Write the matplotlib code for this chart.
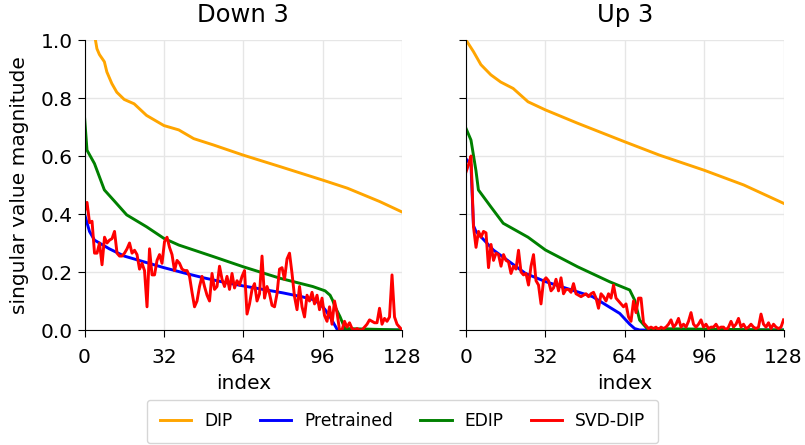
import matplotlib
matplotlib.use("Agg")
import matplotlib.pyplot as plt
import numpy as np

titles = ["Down 3", "Up 3"]
series_names = ["DIP", "Pretrained", "EDIP", "SVD-DIP"]
colors = ["orange", "blue", "green", "red"]
xticks = [0, 32, 64, 96, 128]
yticks = [0.0, 0.2, 0.4, 0.6, 0.8, 1.0]

# ---- Down 3 ----
down_dip_idx = [0, 2, 4, 5, 6, 8, 9, 11, 13, 16, 20, 25, 32, 38, 44, 52, 64, 79, 96, 106, 119, 128]
down_dip_val = [1.15, 1.08, 1.02, 0.97, 0.95, 0.925, 0.89, 0.85, 0.82, 0.795, 0.78, 0.74, 0.705, 0.69,
                0.66, 0.638, 0.603, 0.563, 0.517, 0.489, 0.443, 0.407]
down_pre_idx = [0, 2, 4, 6, 10, 16, 24, 32, 40, 48, 56, 64, 72, 80, 88, 92, 95, 97, 99, 101, 102, 128]
down_pre_val = [0.40, 0.34, 0.31, 0.30, 0.28, 0.255, 0.235, 0.215, 0.197, 0.18, 0.165, 0.152, 0.14,
                0.128, 0.114, 0.105, 0.09, 0.07, 0.045, 0.015, 0.0, 0.0]
down_edip_idx = [0, 1, 4, 8, 12, 17, 25, 32, 38, 52, 64, 79, 92, 97, 99, 100, 101, 103, 105, 128]
down_edip_val = [0.735, 0.62, 0.574, 0.483, 0.445, 0.397, 0.356, 0.316, 0.293, 0.253, 0.218, 0.178,
                 0.15, 0.135, 0.12, 0.103, 0.08, 0.046, 0.005, 0.0]
down_svd_val = [0.41, 0.44, 0.37, 0.375, 0.265, 0.265, 0.30, 0.225, 0.32, 0.30,
                0.31, 0.315, 0.34, 0.265, 0.255, 0.255, 0.265, 0.28, 0.30, 0.265,
                0.275, 0.26, 0.21, 0.23, 0.205, 0.08, 0.28, 0.19, 0.19, 0.24,
                0.26, 0.23, 0.305, 0.32, 0.285, 0.26, 0.205, 0.24, 0.23, 0.21,
                0.205, 0.205, 0.185, 0.13, 0.08, 0.10, 0.15, 0.185, 0.15, 0.12,
                0.10, 0.195, 0.14, 0.15, 0.22, 0.175, 0.15, 0.185, 0.14, 0.195,
                0.145, 0.17, 0.155, 0.185, 0.205, 0.055, 0.09, 0.14, 0.16, 0.10,
                0.125, 0.255, 0.11, 0.15, 0.125, 0.085, 0.08, 0.125, 0.21, 0.215,
                0.175, 0.245, 0.265, 0.195, 0.115, 0.07, 0.15, 0.08, 0.045, 0.12,
                0.10, 0.13, 0.09, 0.12, 0.07, 0.11, 0.05, 0.03, 0.08, 0.02,
                0.10, 0.06, 0.0, 0.0, 0.03, 0.01, 0.025, 0.005, 0.0, 0.005,
                0.0, 0.0, 0.01, 0.02, 0.035, 0.03, 0.025, 0.025, 0.075, 0.02,
                0.04, 0.03, 0.045, 0.19, 0.045, 0.02, 0.01, 0.0]

# ---- Up 3 ----
up_dip_idx = [0, 3, 6, 10, 14, 19, 25, 32, 45, 64, 78, 96, 112, 128]
up_dip_val = [1.0, 0.96, 0.915, 0.88, 0.855, 0.833, 0.787, 0.759, 0.713, 0.649, 0.603, 0.551, 0.50, 0.437]
up_pre_idx = [0, 2, 3, 4, 11, 24, 32, 51, 62, 66, 68, 70, 128]
up_pre_val = [0.59, 0.57, 0.36, 0.34, 0.276, 0.195, 0.167, 0.115, 0.057, 0.02, 0.005, 0.0, 0.0]
up_edip_idx = [0, 2, 4, 5, 10, 15, 25, 32, 45, 58, 66, 68, 70, 73, 128]
up_edip_val = [0.695, 0.655, 0.55, 0.483, 0.425, 0.368, 0.32, 0.276, 0.218, 0.166, 0.138, 0.103,
               0.034, 0.005, 0.0]
up_svd_val = [0.545, 0.57, 0.60, 0.355, 0.285, 0.34, 0.32, 0.34, 0.335, 0.215,
              0.295, 0.24, 0.265, 0.26, 0.22, 0.26, 0.24, 0.235, 0.195, 0.22,
              0.21, 0.275, 0.20, 0.19, 0.195, 0.155, 0.22, 0.26, 0.17, 0.155,
              0.09, 0.17, 0.18, 0.17, 0.135, 0.145, 0.175, 0.135, 0.18, 0.125,
              0.14, 0.14, 0.13, 0.16, 0.125, 0.12, 0.115, 0.12, 0.125, 0.115,
              0.125, 0.13, 0.11, 0.075, 0.125, 0.115, 0.10, 0.125, 0.11, 0.155,
              0.11, 0.10, 0.09, 0.08, 0.09, 0.045, 0.03, 0.10, 0.06, 0.11,
              0.11, 0.025, 0.015, 0.005, 0.01, 0.005, 0.01, 0.0, 0.01, 0.005,
              0.01, 0.02, 0.035, 0.01, 0.02, 0.04, 0.01, 0.02, 0.01, 0.03,
              0.06, 0.02, 0.01, 0.02, 0.035, 0.01, 0.02, 0.005, 0.01, 0.01,
              0.02, 0.005, 0.01, 0.01, 0.0, 0.01, 0.03, 0.01, 0.02, 0.04,
              0.01, 0.02, 0.005, 0.01, 0.02, 0.01, 0.005, 0.01, 0.055, 0.02,
              0.01, 0.025, 0.005, 0.02, 0.01, 0.005, 0.01, 0.035]

panels = [
    [(down_dip_idx, down_dip_val), (down_pre_idx, down_pre_val),
     (down_edip_idx, down_edip_val), (np.linspace(0, 128, len(down_svd_val)), down_svd_val)],
    [(up_dip_idx, up_dip_val), (up_pre_idx, up_pre_val),
     (up_edip_idx, up_edip_val), (np.linspace(0, 128, len(up_svd_val)), up_svd_val)],
]

fig = plt.figure(figsize=(8.05, 4.45), dpi=100)
ax_left = fig.add_axes([0.105, 0.2584, 0.3944, 0.6517])
ax_right = fig.add_axes([0.5789, 0.2584, 0.3944, 0.6517], sharey=ax_left)
axes = [ax_left, ax_right]

handles = []
for k, ax in enumerate(axes):
    for (xs, ys), name, c in zip(panels[k], series_names, colors):
        h, = ax.plot(xs, ys, color=c, lw=2.1, label=name)
        if k == 0:
            handles.append(h)
    ax.set_xlim(0, 128)
    ax.set_ylim(0, 1.0)
    ax.set_xticks(xticks)
    ax.set_yticks(yticks)
    ax.grid(True, color="#e6e6e6", lw=1.0)
    ax.set_axisbelow(True)
    ax.spines["top"].set_visible(False)
    ax.spines["right"].set_visible(False)
    ax.tick_params(labelsize=14.5, length=5)
    ax.tick_params(axis="x", pad=8)
    ax.set_title(titles[k], fontsize=17.5, pad=13)
    ax.set_xlabel("index", fontsize=14.5, labelpad=5)

ax_left.set_ylabel("singular value magnitude", fontsize=14.5, labelpad=8)
plt.setp(ax_right.get_yticklabels(), visible=False)

fig.legend(handles, series_names, loc="center", bbox_to_anchor=(0.5, 0.053), ncol=4,
           fontsize=12.3, frameon=True, handlelength=1.85, handletextpad=0.75,
           columnspacing=1.6, borderpad=0.75)

fig.savefig("out.png", dpi=100)
